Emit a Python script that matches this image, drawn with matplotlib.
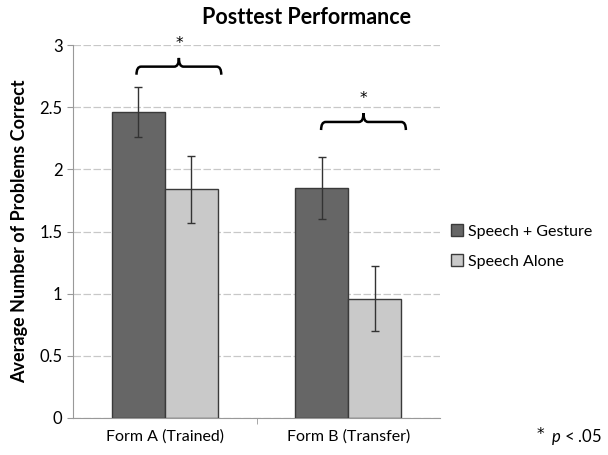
import matplotlib.pyplot as plt
import numpy as np
from matplotlib.path import Path
from matplotlib.patches import PathPatch

plt.rcParams["font.family"] = ["Lato", "DejaVu Sans"]
plt.rcParams["mathtext.fontset"] = "custom"
plt.rcParams["mathtext.rm"] = "Lato"
plt.rcParams["mathtext.it"] = "Lato:italic"

categories = ["Form A (Trained)", "Form B (Transfer)"]
series_names = ["Speech + Gesture", "Speech Alone"]
gesture_means = [2.46, 1.85]
gesture_err = [0.20, 0.25]
alone_means = [1.84, 0.96]
alone_err = [0.27, 0.26]


def draw_bracket(ax, x0, x1, y, h=0.065, tip=0.07):
    xm = (x0 + x1) / 2
    r = 0.025
    verts = [
        (x0, y - h), (x0, y), (x0 + r, y),
        (xm - r, y), (xm, y), (xm, y + tip),
        (xm, y), (xm + r, y),
        (x1 - r, y), (x1, y), (x1, y - h),
    ]
    codes = [
        Path.MOVETO, Path.CURVE3, Path.CURVE3,
        Path.LINETO, Path.CURVE3, Path.CURVE3,
        Path.CURVE3, Path.CURVE3,
        Path.LINETO, Path.CURVE3, Path.CURVE3,
    ]
    ax.add_patch(PathPatch(Path(verts, codes), fill=False, lw=1.8,
                           edgecolor="black", capstyle="butt"))
    ax.text(xm, y + tip + 0.12, "*", ha="center", va="center", fontsize=11,
            family="DejaVu Sans")


fig = plt.figure(figsize=(6.08, 4.55), dpi=100)
ax = fig.add_axes([73 / 608, 1 - 418 / 455, 367 / 608, 373 / 455])

x = np.arange(len(categories))
w = 0.288
err_kw = dict(ecolor="#333333", elinewidth=1.0, capsize=3, capthick=1.0)
ax.bar(x - w / 2, gesture_means, w, yerr=gesture_err, color="#666666",
       edgecolor="#3a3a3a", linewidth=1.0, label=series_names[0],
       error_kw=err_kw, zorder=3)
ax.bar(x + w / 2, alone_means, w, yerr=alone_err, color="#c9c9c9",
       edgecolor="#3a3a3a", linewidth=1.0, label=series_names[1],
       error_kw=err_kw, zorder=3)

draw_bracket(ax, x[0] - 0.154, x[0] + 0.308, 2.826)
draw_bracket(ax, x[1] - 0.148, x[1] + 0.314, 2.381)

ax.set_xlim(-0.5, 1.5)
ax.set_ylim(0, 3)
ax.set_yticks(np.arange(0, 3.01, 0.5))
ax.set_yticklabels(["0", "0.5", "1", "1.5", "2", "2.5", "3"])
ax.set_xticks(x)
ax.set_xticklabels(categories)
ax.set_xticks([0.5], minor=True)
ax.tick_params(axis="x", which="major", length=0, labelsize=11.5, pad=8)
ax.tick_params(axis="x", which="minor", length=4, color="#999999")
ax.tick_params(axis="y", length=4, color="#999999", labelsize=12)
ax.yaxis.grid(True, linestyle=(0, (6, 2)), color="#c8c8c8", linewidth=0.9)
ax.set_axisbelow(True)
for s in ["top", "right"]:
    ax.spines[s].set_visible(False)
for s in ["left", "bottom"]:
    ax.spines[s].set_color("#999999")

ax.set_ylabel("Average Number of Problems Correct", fontsize=13,
              fontweight="bold", labelpad=8)
fig.text(307 / 608, 1 - 17 / 455, "Posttest Performance", ha="center",
         va="center", fontsize=15.5, fontweight="bold")

ax.legend(loc="center left", bbox_to_anchor=(0.99, 0.46), frameon=False,
          fontsize=11.5, handlelength=0.8, handleheight=0.8,
          labelspacing=0.95, handletextpad=0.3)

fig.text(537 / 608, 1 - 435 / 455, "*", ha="left", va="center", fontsize=11,
         family="DejaVu Sans")
fig.text(551 / 608, 1 - 437 / 455, "$p$ < .05", ha="left",
         va="center", fontsize=12)

plt.savefig("out.png", dpi=100)
plt.close()
